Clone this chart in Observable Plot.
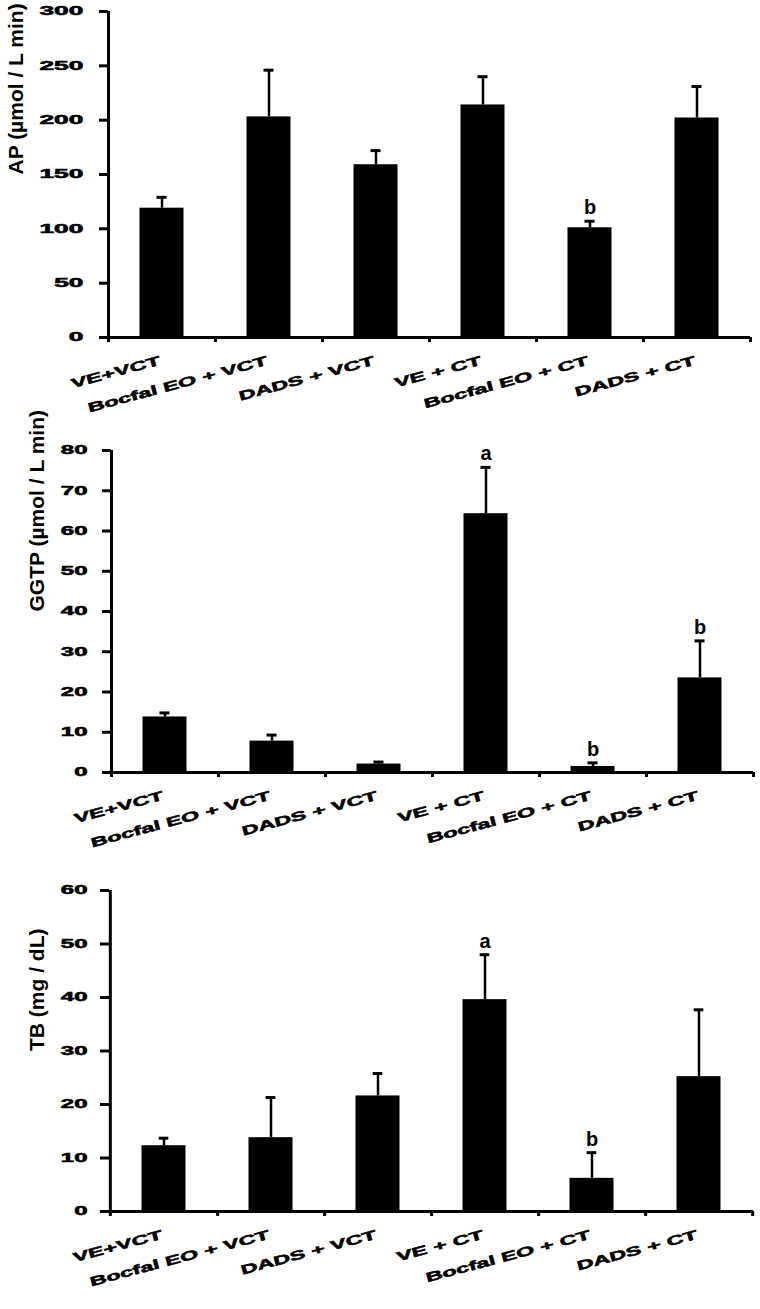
<!DOCTYPE html>
<html><head><meta charset="utf-8">
<script src="https://cdn.jsdelivr.net/npm/d3@7"></script>
<script src="https://cdn.jsdelivr.net/npm/@observablehq/plot@0.6"></script>
<style>
body{margin:0;background:#fff;}
#chart svg{display:block;}
</style></head><body><div id="chart"></div>
<script>
// ---- data ----
const groups = ["VE+VCT", "Bocfal EO + VCT", "DADS + VCT", "VE + CT", "Bocfal EO + CT", "DADS + CT"];

const apMean  = [119, 203, 159, 214, 101, 202];
const apUpper = [129, 246, 172, 240, 107, 231];
const apSig   = ["", "", "", "", "b", ""];
const apTicks = [0, 50, 100, 150, 200, 250, 300];

const ggtpMean  = [13.8, 7.8, 2.1, 64.3, 1.5, 23.5];
const ggtpUpper = [14.8, 9.3, 2.6, 75.8, 2.4, 32.7];
const ggtpSig   = ["", "", "", "a", "b", "b"];
const ggtpTicks = [0, 10, 20, 30, 40, 50, 60, 70, 80];

const tbMean  = [12.3, 13.8, 21.6, 39.6, 6.2, 25.2];
const tbUpper = [13.7, 21.3, 25.8, 48.0, 11.0, 37.7];
const tbSig   = ["", "", "", "a", "b", ""];
const tbTicks = [0, 10, 20, 30, 40, 50, 60];

const titles = ["AP (µmol / L min)", "GGTP (µmol / L min)", "TB (mg / dL)"];

// ---- layout ----
const panels = [
  {mean: apMean, upper: apUpper, sig: apSig, ticks: apTicks, title: titles[0],
   h: 430, ml: 108, mr: 10, mt: 11, mb: 93, tickPad: 16, yStretch: 2.2, titleDx: -100},
  {mean: ggtpMean, upper: ggtpUpper, sig: ggtpSig, ticks: ggtpTicks, title: titles[1],
   h: 440, ml: 111, mr: 7, mt: 20, mb: 98, tickPad: 15, yStretch: 2.0, titleDx: -82},
  {mean: tbMean, upper: tbUpper, sig: tbSig, ticks: tbTicks, title: titles[2],
   h: 439, ml: 109, mr: 7, mt: 20, mb: 98, tickPad: 13, yStretch: 2.0, titleDx: -80}
];

const FONT = "'Liberation Sans', Arial, Helvetica, sans-serif";
const X_ROT = -15, X_STRETCH = 1.8;

function stretch(t, s, rot) {
  const tr = t.getAttribute("transform") || "";
  const m = tr.match(/translate\(\s*([-\d.e]+)[\s,]+([-\d.e]+)\s*\)/);
  let x, y;
  if (m) { x = +m[1]; y = +m[2]; }
  else {
    x = +t.getAttribute("x") || 0; y = +t.getAttribute("y") || 0;
    t.removeAttribute("x"); t.removeAttribute("y");
  }
  t.setAttribute("transform", `translate(${x},${y})` + (rot ? ` rotate(${rot})` : "") + ` scale(${s},1)`);
  t.setAttribute("stroke", "black");
  t.setAttribute("stroke-width", "0.55");
}

function fixTexts(svg, cfg) {
  const cats = new Set(groups);
  svg.querySelectorAll("text").forEach(t => {
    const aria = (t.parentNode && t.parentNode.getAttribute && t.parentNode.getAttribute("aria-label")) || "";
    if (aria.includes("tick label")) stretch(t, cfg.yStretch, 0);
    else if (cats.has(t.textContent)) stretch(t, X_STRETCH, X_ROT);
  });
}

function panel(cfg) {
  const data = groups.map((g, i) => ({g, m: cfg.mean[i], u: cfg.upper[i], s: cfg.sig[i]}));
  const yMax = d3.max(cfg.ticks);
  const step = (760 - cfg.ml - cfg.mr) / groups.length;
  const svg = Plot.plot({
    width: 760, height: cfg.h,
    marginLeft: cfg.ml, marginRight: cfg.mr, marginTop: cfg.mt, marginBottom: cfg.mb,
    style: {fontFamily: FONT, color: "black", background: "white", overflow: "visible"},
    x: {domain: groups, padding: 0, axis: null},
    y: {domain: [0, yMax], axis: null},
    marks: [
      Plot.barY(data, {x: "g", y: "m", fill: "black", insetLeft: 31.5, insetRight: 31.5}),
      Plot.ruleX(data, {x: "g", y1: "m", y2: "u", stroke: "black", strokeWidth: 2.5}),
      Plot.tickY(data, {x: "g", y: "u", stroke: "black", strokeWidth: 3,
        insetLeft: step / 2 - 5, insetRight: step / 2 - 5}),
      Plot.text(data.filter(d => d.s), {x: "g", y: "u", text: "s", dy: -7, lineAnchor: "bottom",
        fontSize: 20, fontWeight: "bold", fill: "black"}),
      // x axis line
      Plot.ruleY([0], {stroke: "black", strokeWidth: 3}),
      // y axis line (at the left edge of the first band)
      Plot.ruleX([groups[0]], {x: d => d, y1: yMax, y2: 0, dx: -step / 2, insetBottom: -5,
        stroke: "black", strokeWidth: 3}),
      // category boundary ticks
      Plot.ruleX(groups, {x: d => d, y1: 0, y2: 0, dx: step / 2, insetBottom: -5,
        stroke: "black", strokeWidth: 3}),
      // y ticks and labels
      Plot.axisY({ticks: cfg.ticks, tickSize: 9, tickPadding: cfg.tickPad, strokeWidth: 3,
        label: null, fontSize: 12, fontWeight: "bold", tickFormat: d => String(d)}),
      // x labels
      Plot.text(groups, {x: d => d, y: 0, text: d => d, textAnchor: "end", lineAnchor: "bottom",
        rotate: X_ROT, dy: 27, dx: -1, fontSize: 13, fontWeight: "bold", fill: "black"}),
      // y title
      Plot.text([cfg.title], {frameAnchor: "left", text: d => d, rotate: -90, lineAnchor: "top",
        dx: cfg.titleDx, fontSize: 21, fontWeight: "bold", fill: "black"})
    ]
  });
  fixTexts(svg, cfg);
  return svg;
}

const root = document.getElementById("chart");
panels.forEach(cfg => root.appendChild(panel(cfg)));
</script>
</body></html>
